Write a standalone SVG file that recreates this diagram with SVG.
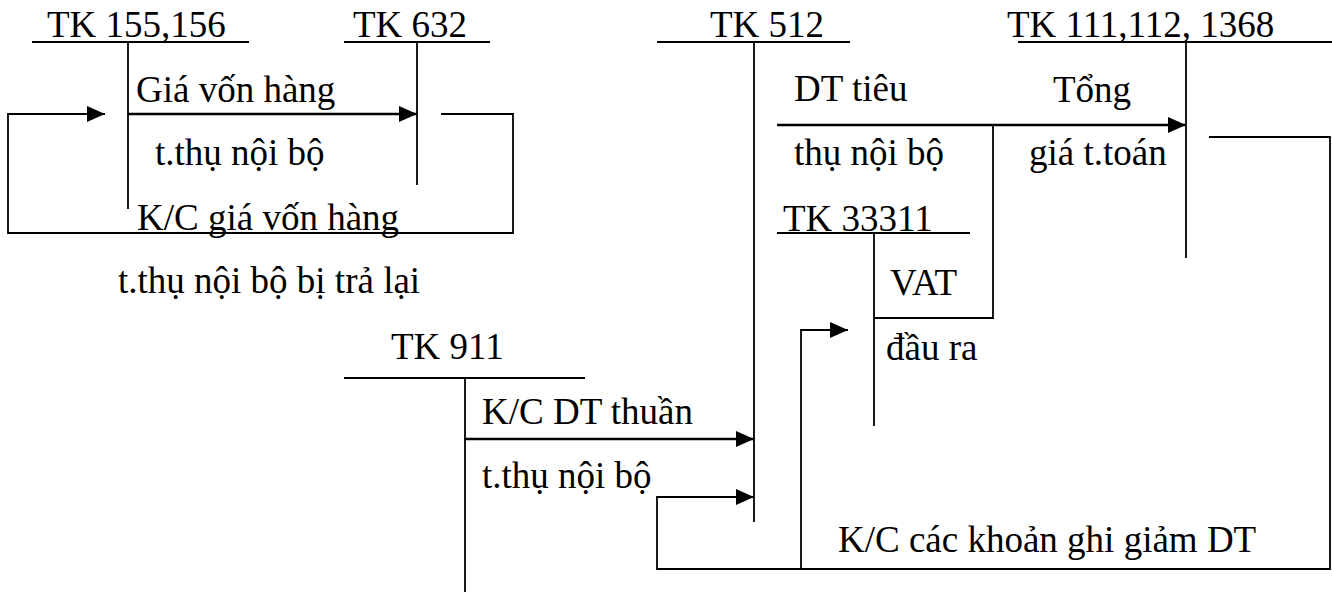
<svg xmlns="http://www.w3.org/2000/svg" width="1332" height="592" viewBox="0 0 1332 592">
<style>
.t{font-family:"Liberation Serif","Times New Roman","DejaVu Serif",serif;font-size:37px;fill:#000}
.ln{stroke:#000;stroke-width:1.8;fill:none}
.ar{stroke:#000;stroke-width:2.4;fill:none}
</style>
<defs>
<marker id="ah" markerUnits="userSpaceOnUse" markerWidth="18" markerHeight="16" refX="18" refY="8" orient="auto">
<path d="M0,0 L18,8 L0,16 z" fill="#000"/>
</marker>
</defs>
<rect width="1332" height="592" fill="#fff"/>
<g id="connectors">
<line class="ar" x1="128" y1="114" x2="417" y2="114" marker-end="url(#ah)"/>
<polyline class="ln" points="441,114 513,114 513,233 8,233 8,114 105,114" marker-end="url(#ah)"/>
<line class="ar" x1="777" y1="125" x2="1186" y2="125" marker-end="url(#ah)"/>
<polyline class="ln" points="993,125 993,318 874,318"/>
<line class="ar" x1="465" y1="439" x2="754" y2="439" marker-end="url(#ah)"/>
<polyline class="ln" points="1209,137 1330,137 1330,569 657,569 657,497 754,497" marker-end="url(#ah)"/>
<polyline class="ln" points="801,569 801,330 848,330" marker-end="url(#ah)"/>
</g>
<g id="tk155">
<line class="ln" x1="32" y1="42" x2="249" y2="42"/>
<line class="ln" x1="128" y1="42" x2="128" y2="209"/>
<text class="t" x="47" y="37">TK 155,156</text>
</g>
<g id="tk632">
<line class="ln" x1="344" y1="42" x2="490" y2="42"/>
<line class="ln" x1="417" y1="42" x2="417" y2="185"/>
<text class="t" x="353" y="37">TK 632</text>
</g>
<g id="tk512">
<line class="ln" x1="657" y1="42" x2="850" y2="42"/>
<line class="ln" x1="754" y1="42" x2="754" y2="522"/>
<text class="t" x="710" y="37">TK 512</text>
</g>
<g id="tk111">
<line class="ln" x1="1018" y1="42" x2="1332" y2="42"/>
<line class="ln" x1="1186" y1="42" x2="1186" y2="258"/>
<text class="t" x="1007" y="37">TK 111,112, 1368</text>
</g>
<g id="tk33311">
<line class="ln" x1="777" y1="233" x2="970" y2="233"/>
<line class="ln" x1="874" y1="233" x2="874" y2="426"/>
<text class="t" x="783" y="231">TK 33311</text>
</g>
<g id="tk911">
<line class="ln" x1="344" y1="378" x2="585" y2="378"/>
<line class="ln" x1="465" y1="378" x2="465" y2="592"/>
<text class="t" x="391" y="359">TK 911</text>
</g>
<g id="labels">
<text class="t" x="136" y="102">Giá vốn hàng</text>
<text class="t" x="155" y="165">t.thụ nội bộ</text>
<text class="t" x="137" y="230">K/C giá vốn hàng</text>
<text class="t" x="118" y="293">t.thụ nội bộ bị trả lại</text>
<text class="t" x="794" y="101">DT tiêu</text>
<text class="t" x="1053" y="102">Tổng</text>
<text class="t" x="794" y="165">thụ nội bộ</text>
<text class="t" x="1029" y="165">giá t.toán</text>
<text class="t" x="890" y="295">VAT</text>
<text class="t" x="886" y="360">đầu ra</text>
<text class="t" x="482" y="424">K/C DT thuần</text>
<text class="t" x="482" y="488">t.thụ nội bộ</text>
<text class="t" x="838" y="552">K/C các khoản ghi giảm DT</text>
</g>
</svg>
